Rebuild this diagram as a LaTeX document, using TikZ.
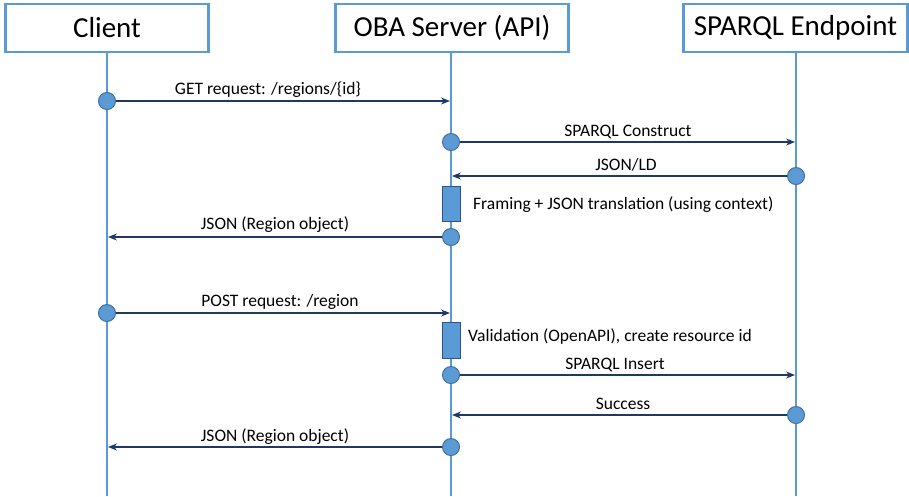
\documentclass[tikz,border=0pt]{standalone}
\usepackage{fontspec}
\setmainfont{Carlito}
\usetikzlibrary{arrows.meta}
\definecolor{lifeblue}{HTML}{5B9BD5}
\definecolor{dotedge}{HTML}{41719C}
\definecolor{msgnavy}{HTML}{1F3864}
\definecolor{actedge}{HTML}{2F528F}
\tikzset{
  actor/.style={draw=lifeblue, line width=2.2pt, fill=white, minimum height=48pt,
    inner sep=0pt, font=\fontsize{29}{32}\selectfont},
  lifeline/.style={draw=lifeblue, line width=1.8pt},
  dot/.style={circle, draw=dotedge, fill=lifeblue, line width=1pt, minimum size=17pt, inner sep=0pt},
  msg/.style={draw=msgnavy, line width=1.3pt, -{Stealth[length=9pt,width=7pt]}},
  msglabel/.style={anchor=base, font=\fontsize{17.5}{20}\selectfont, inner sep=0pt},
  actbox/.style={draw=actedge, fill=lifeblue, line width=1pt, minimum width=18pt, inner sep=0pt},
  notelabel/.style={anchor=base west, font=\fontsize{17.5}{20}\selectfont, inner sep=0pt}
}
\begin{document}
\begin{tikzpicture}[x=1pt, y=-1pt]
\useasboundingbox (0,0) rectangle (909,496);

% participant lifelines
\coordinate (clTop) at (107,52);
\coordinate (clBot) at (107,496);
\coordinate (srvTop) at (451,52);
\coordinate (srvBot) at (451,496);
\coordinate (epTop) at (796,52);
\coordinate (epBot) at (796,496);
\draw[lifeline] (clTop) -- (clBot);
\draw[lifeline] (srvTop) -- (srvBot);
\draw[lifeline] (epTop) -- (epBot);

% participant headers
\node[actor, minimum width=203pt] (cl) at (107,28) {Client};
\node[actor, minimum width=233pt] (srv) at (452,28) {OBA Server (API)};
\node[actor, minimum width=224pt] (ep) at (795.5,28) {SPARQL Endpoint};

% --- GET sequence ---
\node[dot] (d1) at (107,101) {};
\coordinate (t1) at (450,101);
\draw[msg] (d1) -- (t1);
\node[msglabel] (l1) at (268,94) {GET request: /regions/\{id\}};

\node[dot] (d2) at (451,142) {};
\coordinate (t2) at (795,142);
\draw[msg] (d2) -- (t2);
\node[msglabel] (l2) at (628,136) {SPARQL Construct};

\node[dot] (d3) at (796,176) {};
\coordinate (t3) at (452,176);
\draw[msg] (d3) -- (t3);
\node[msglabel] (l3) at (626,170) {JSON/LD};

\node[actbox, minimum height=35pt] (a1) at (451.5,203.5) {};
\node[notelabel] (n1) at (473,209) {Framing + JSON translation (using context)};

\node[dot] (d4) at (451,237) {};
\coordinate (t4) at (108,237);
\draw[msg] (d4) -- (t4);
\node[msglabel] (l4) at (275,229) {JSON (Region object)};

% --- POST sequence ---
\node[dot] (d5) at (107,313) {};
\coordinate (t5) at (450,313);
\draw[msg] (d5) -- (t5);
\node[msglabel] (l5) at (280,306) {POST request: /region};

\node[actbox, minimum height=36pt] (a2) at (451.5,340) {};
\node[notelabel] (n2) at (468,341) {Validation (OpenAPI), create resource id};

\node[dot] (d6) at (451,375) {};
\coordinate (t6) at (795,375);
\draw[msg] (d6) -- (t6);
\node[msglabel] (l6) at (615,369) {SPARQL Insert};

\node[dot] (d7) at (796,415) {};
\coordinate (t7) at (452,415);
\draw[msg] (d7) -- (t7);
\node[msglabel] (l7) at (623,409) {Success};

\node[dot] (d8) at (451,447) {};
\coordinate (t8) at (108,447);
\draw[msg] (d8) -- (t8);
\node[msglabel] (l8) at (275,441) {JSON (Region object)};
\end{tikzpicture}
\end{document}
